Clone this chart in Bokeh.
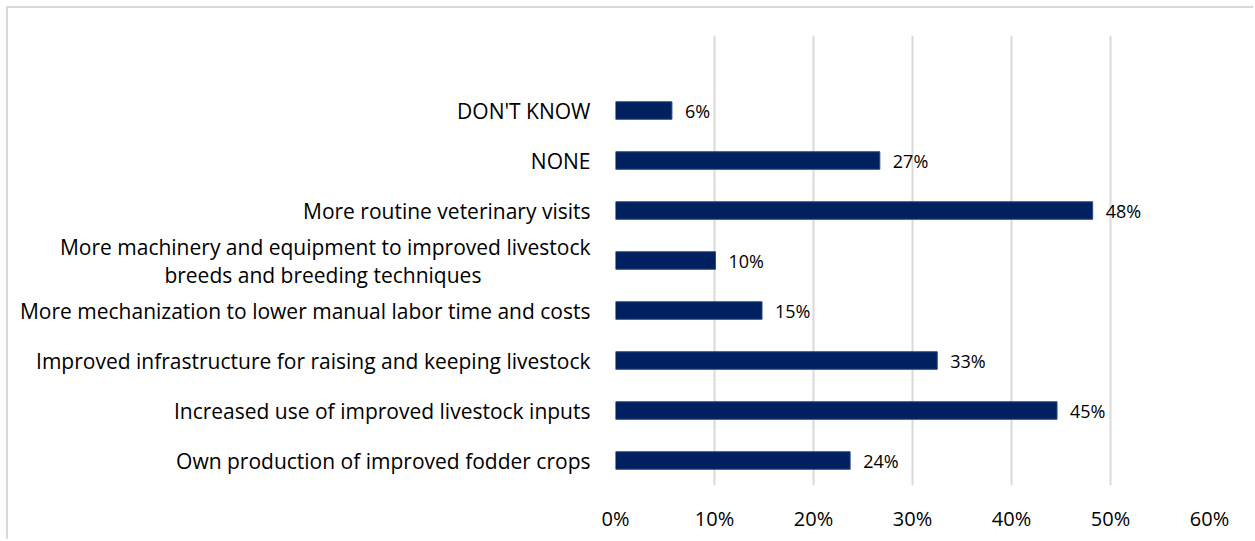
from bokeh.plotting import figure
from bokeh.models import ColumnDataSource, FixedTicker, Range1d, LabelSet, NumeralTickFormatter
from bokeh.core.properties import value
from bokeh.embed import file_html
from bokeh.resources import INLINE

categories = [
    "Own production of improved fodder crops",
    "Increased use of improved livestock inputs",
    "Improved infrastructure for raising and keeping livestock",
    "More mechanization to lower manual labor time and costs",
    "More machinery and equipment to improved livestock\nbreeds and breeding techniques",
    "More routine veterinary visits",
    "NONE",
    "DON'T KNOW",
]
values = [0.237, 0.446, 0.325, 0.148, 0.101, 0.482, 0.267, 0.057]
value_labels = ["24%", "45%", "33%", "15%", "10%", "48%", "27%", "6%"]
x_ticks = [0, 0.1, 0.2, 0.3, 0.4, 0.5, 0.6]

FONT = "Open Sans"
pos = list(range(1, len(categories) + 1))

src = ColumnDataSource(dict(y=pos, v=values, lab=value_labels))

W, H = 1247, 533
p = figure(width=W, height=H, output_backend="svg", toolbar_location=None,
           x_range=Range1d(0, 0.6), y_range=Range1d(0.5, 9.5),
           min_border_left=607, min_border_right=46,
           min_border_top=27, min_border_bottom=56)
p.margin = (6, 0, 0, 6)
p.styles = {"border-top": "2px solid #d9d9d9", "border-left": "2px solid #d9d9d9"}
p.outline_line_color = None

p.hbar(y="y", right="v", left=0, height=0.35, source=src,
       fill_color="#002060", line_color="#2a4a8a", line_width=1)

p.add_layout(LabelSet(x="v", y="y", text="lab", source=src, x_offset=13,
                      text_baseline="middle", text_font=value(FONT),
                      text_font_size="18px", text_color="#000000"))


def axis_label(c):
    # centre the second line of a wrapped label under the first (right-aligned axis)
    if "\n" in c:
        first, second = c.split("\n", 1)
        return first + "\n" + second + "\u00a0" * 20
    return c


p.xaxis.ticker = FixedTicker(ticks=x_ticks)
p.xaxis.formatter = NumeralTickFormatter(format="0%")
p.xaxis.axis_line_color = None
p.xaxis.major_tick_line_color = None
p.xaxis.minor_tick_line_color = None
p.xaxis.major_label_standoff = 13
p.xaxis.major_label_text_font = FONT
p.xaxis.major_label_text_font_size = "20px"
p.xaxis.major_label_text_color = "#000000"

p.yaxis.ticker = FixedTicker(ticks=pos)
p.yaxis.major_label_overrides = {k: axis_label(c) for k, c in zip(pos, categories)}
p.yaxis.axis_line_color = None
p.yaxis.major_tick_line_color = None
p.yaxis.minor_tick_line_color = None
p.yaxis.major_label_standoff = 19
p.yaxis.major_label_text_font = FONT
p.yaxis.major_label_text_font_size = "21px"
p.yaxis.major_label_text_line_height = 1.0
p.yaxis.major_label_text_color = "#000000"

p.xgrid.grid_line_color = "#d9d9d9"
p.xgrid.grid_line_width = 2
p.ygrid.grid_line_color = None

open("out.html", "w").write(file_html(p, INLINE))
